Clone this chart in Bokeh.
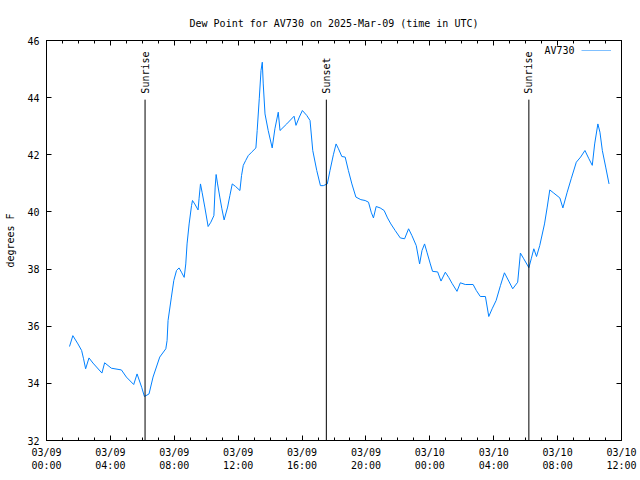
from datetime import datetime, timedelta
import numpy as np
from bokeh.plotting import figure
from bokeh.models import (FixedTicker, DatetimeTickFormatter, LinearAxis, DatetimeAxis,
                          Range1d, Legend, LegendItem, Label)
from bokeh.core.properties import value
from bokeh.embed import file_html
from bokeh.resources import INLINE

# ---- data (hours after 2025-03-09 00:00 UTC, dew point in F) ----
hours = [1.44, 1.65, 1.97, 2.20, 2.32, 2.45, 2.66, 2.91, 3.47, 3.64, 4.06, 4.69, 5.00, 5.46,
         5.67, 5.96, 6.13, 6.42, 6.67, 7.09, 7.47, 7.55, 7.61, 7.82, 7.97, 8.14, 8.30, 8.45,
         8.62, 8.72, 8.80, 8.93, 9.08, 9.14, 9.28, 9.49, 9.55, 9.64, 9.74, 9.91, 10.12, 10.29,
         10.48, 10.56, 10.62, 10.71, 10.85, 10.98, 11.12, 11.34, 11.48, 11.63, 11.84, 12.11,
         12.21, 12.32, 12.47, 12.63, 12.84, 13.11, 13.19, 13.32, 13.43, 13.51, 13.57, 13.68,
         13.88, 14.13, 14.30, 14.51, 14.62, 15.04, 15.50, 15.62, 15.83, 16.02, 16.29, 16.50,
         16.67, 16.92, 17.15, 17.33, 17.58, 17.75, 17.96, 18.13, 18.28, 18.49, 18.70, 18.90,
         19.12, 19.37, 19.68, 19.95, 20.16, 20.33, 20.47, 20.64, 20.89, 21.14, 21.35, 21.56,
         21.83, 22.15, 22.42, 22.67, 22.88, 23.15, 23.36, 23.51, 23.67, 23.82, 24.03, 24.17,
         24.49, 24.70, 24.97, 25.18, 25.39, 25.70, 25.91, 26.22, 26.71, 26.91, 27.16, 27.48,
         27.69, 27.90, 28.15, 28.42, 28.67, 28.94, 29.19, 29.50, 29.67, 29.88, 30.20, 30.35,
         30.51, 30.68, 30.88, 31.18, 31.35, 31.51, 31.76, 32.14, 32.33, 32.60, 32.85, 33.17,
         33.44, 33.71, 33.96, 34.17, 34.32, 34.52, 34.65, 34.80, 35.01, 35.22]
dewpoint = [35.29, 35.67, 35.38, 35.15, 34.86, 34.51, 34.89, 34.71, 34.36, 34.72, 34.53, 34.47,
            34.22, 33.96, 34.33, 33.86, 33.54, 33.63, 34.22, 34.92, 35.21, 35.50, 36.20, 37.02,
            37.60, 37.95, 38.04, 37.89, 37.71, 38.18, 38.88, 39.58, 40.22, 40.40, 40.28, 40.07,
            40.46, 40.98, 40.69, 40.17, 39.49, 39.64, 39.87, 40.87, 41.31, 40.98, 40.52, 40.11,
            39.72, 40.17, 40.57, 40.98, 40.89, 40.75, 41.27, 41.63, 41.80, 41.97, 42.09, 42.24,
            42.85, 43.96, 44.95, 45.24, 44.48, 43.43, 42.85, 42.24, 42.91, 43.49, 42.85, 43.08,
            43.35, 43.03, 43.32, 43.55, 43.38, 43.20, 42.15, 41.45, 40.92, 40.92, 40.98, 41.45,
            42.00, 42.38, 42.21, 41.94, 41.92, 41.45, 40.98, 40.52, 40.43, 40.40, 40.34, 39.99,
            39.79, 40.19, 40.14, 40.05, 39.79, 39.58, 39.35, 39.09, 39.06, 39.41, 39.17, 38.82,
            38.18, 38.65, 38.88, 38.59, 38.18, 37.92, 37.90, 37.58, 37.89, 37.71, 37.50, 37.22,
            37.52, 37.46, 37.46, 37.25, 37.04, 37.04, 36.34, 36.61, 36.90, 37.42, 37.87, 37.58,
            37.31, 37.54, 38.56, 38.36, 38.05, 38.36, 38.71, 38.44, 38.82, 39.58, 40.17, 40.77,
            40.66, 40.49, 40.14, 40.69, 41.16, 41.74, 41.92, 42.15, 41.86, 41.63, 42.38, 43.08,
            42.79, 42.15, 41.57, 40.98]

sun_hours = [6.17, 17.52, 30.20]
sun_labels = ["Sunrise", "Sunset", "Sunrise"]
sun_line_top = 43.93

tick_hours = [0, 4, 8, 12, 16, 20, 24, 28, 32, 36]
y_ticks = [32, 34, 36, 38, 40, 42, 44, 46]
series_name = "AV730"
title_text = "Dew Point for AV730 on 2025-Mar-09 (time in UTC)"
y_label = "degrees F"

base = datetime(2025, 3, 9, 0, 0)
def to_ms(h):
    return (base + timedelta(hours=h) - datetime(1970, 1, 1)).total_seconds() * 1000.0

xs = [base + timedelta(hours=h) for h in hours]
FONT = "DejaVu Sans Mono"
FS = "10px"
BLUE = "#0080ff"

p = figure(width=640, height=480, output_backend="svg", toolbar_location=None,
           x_axis_type="datetime",
           x_range=Range1d(to_ms(0), to_ms(36)), y_range=Range1d(32, 46),
           min_border_left=46, min_border_right=19, min_border_top=40, min_border_bottom=40)
p.title.text = title_text
p.title.text_font = FONT
p.title.text_font_size = FS
p.title.text_font_style = "normal"
p.title.text_color = "black"
p.title.align = "center"
p.title.standoff = 23

p.xgrid.visible = False
p.ygrid.visible = False
p.outline_line_color = "black"
p.outline_line_alpha = 1.0
p.background_fill_color = "white"
p.border_fill_color = "white"

xticker = FixedTicker(ticks=[to_ms(h) for h in tick_hours],
                      minor_ticks=[to_ms(h) for h in range(0, 37)])
fmt = "%m/%d\n%H:%M"
xfmt = DatetimeTickFormatter(milliseconds=fmt, seconds=fmt, minsec=fmt, minutes=fmt,
                             hourmin=fmt, hours=fmt, days=fmt, months=fmt, years=fmt)
yticker = FixedTicker(ticks=y_ticks, minor_ticks=[])

def style_axis(ax, labels=True):
    ax.axis_line_color = "black"
    ax.major_tick_in = 5
    ax.major_tick_out = 0
    ax.minor_tick_in = 3
    ax.minor_tick_out = 0
    ax.major_tick_line_color = "black"
    ax.minor_tick_line_color = "black"
    ax.major_label_text_font = FONT
    ax.major_label_text_font_size = FS
    ax.major_label_text_color = "black"
    if not labels:
        ax.major_label_text_alpha = 0
        ax.major_label_text_font_size = "1px"

xa = p.xaxis[0]
xa.ticker = xticker
xa.formatter = xfmt
style_axis(xa)
xa.major_label_standoff = 6

ya = p.yaxis[0]
ya.ticker = yticker
style_axis(ya)
ya.major_label_standoff = 7
ya.axis_label = y_label
ya.axis_label_text_font = FONT
ya.axis_label_text_font_size = FS
ya.axis_label_text_font_style = "normal"
ya.axis_label_text_color = "black"
ya.axis_label_standoff = 8

top = DatetimeAxis(ticker=xticker, formatter=xfmt)
style_axis(top, labels=False)
p.add_layout(top, "above")
right = LinearAxis(ticker=yticker)
style_axis(right, labels=False)
p.add_layout(right, "right")

# data line
r = p.line(xs, dewpoint, line_color=BLUE, line_width=1)

# sunrise / sunset markers
sun_x = [base + timedelta(hours=h) for h in sun_hours]
p.segment(x0=sun_x, y0=[32] * len(sun_x), x1=sun_x, y1=[sun_line_top] * len(sun_x),
          line_color="black", line_width=1)
p.text(x=sun_x, y=[sun_line_top] * len(sun_x), text=sun_labels, angle=np.pi / 2,
       text_align="left", text_baseline="middle", y_offset=-6,
       text_font=value(FONT), text_font_size=value(FS), text_color="black")

# key: gnuplot style (title on the left, line sample on the right)
legend = Legend(items=[LegendItem(label=value(" "), renderers=[r])],
                location="top_right", border_line_alpha=0, background_fill_alpha=0,
                label_text_font=FONT, label_text_font_size="1px", glyph_width=30,
                glyph_height=1, label_standoff=0, label_width=0, padding=0, margin=10,
                spacing=0, label_height=1)
p.add_layout(legend)
key_label = Label(x=574, y=50, x_units="canvas", y_units="canvas", text=series_name,
                  text_font=FONT, text_font_size=FS, text_color="black",
                  text_align="right", text_baseline="middle")
p.add_layout(key_label)

open("out.html", "w").write(file_html(p, INLINE))
